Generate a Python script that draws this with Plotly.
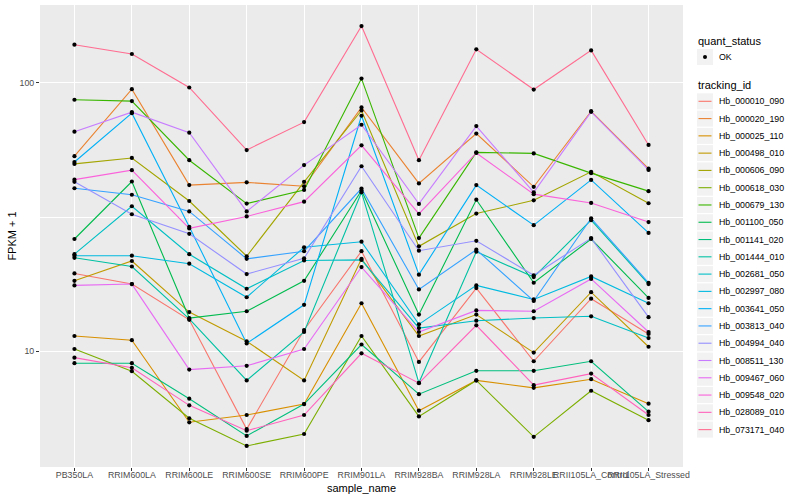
import plotly.graph_objects as go

samples = ["PB350LA", "RRIM600LA", "RRIM600LE", "RRIM600SE", "RRIM600PE", "RRIM901LA",
           "RRIM928BA", "RRIM928LA", "RRIM928LE", "RRII105LA_Control", "RRII105LA_Stressed"]

tracking_ids = ["Hb_000010_090", "Hb_000020_190", "Hb_000025_110", "Hb_000498_010", "Hb_000606_090",
                "Hb_000618_030", "Hb_000679_130", "Hb_001100_050", "Hb_001141_020", "Hb_001444_010",
                "Hb_002681_050", "Hb_002997_080", "Hb_003641_050", "Hb_003813_040", "Hb_004994_040",
                "Hb_008511_130", "Hb_009467_060", "Hb_009548_020", "Hb_028089_010", "Hb_073171_040"]

colors = ["#F8766D", "#EA8331", "#D89000", "#C09B00", "#A3A500", "#7CAE00", "#39B600", "#00BB4E",
          "#00BF7D", "#00C1A3", "#00BFC4", "#00BAE0", "#00B0F6", "#35A2FF", "#9590FF", "#C77CFF",
          "#E76BF3", "#FA62DB", "#FF62BC", "#FF6C91"]

# FPKM + 1 per sample (order of `samples`)
hb_000010_090 = [19.5, 17.8, 13.1, 5.13, 12.0, 23.6, 9.13, 17.2, 9.18, 15.7, 11.6]
hb_000020_190 = [53.3, 94.7, 41.6, 42.6, 41.2, 81.0, 42.2, 64.7, 41.0, 78.4, 47.9]
hb_000025_110 = [11.4, 11.0, 5.44, 5.79, 6.36, 15.1, 6.01, 7.79, 7.31, 7.87, 6.38]
hb_000498_010 = [18.3, 21.7, 14.0, 10.9, 7.79, 22.1, 11.4, 13.7, 9.89, 16.6, 10.4]
hb_000606_090 = [49.9, 52.5, 36.3, 22.6, 42.8, 78.9, 24.6, 32.6, 36.5, 46.6, 35.6]
hb_000618_030 = [10.2, 8.43, 5.63, 4.44, 4.92, 11.4, 5.72, 7.79, 4.80, 7.13, 5.54]
hb_000679_130 = [86.5, 85.5, 51.5, 35.5, 39.9, 103.7, 26.4, 55.1, 54.6, 46.1, 39.5]
hb_001100_050 = [26.2, 42.9, 13.3, 14.1, 18.3, 39.7, 13.7, 36.7, 18.0, 26.2, 15.8]
hb_001141_020 = [9.03, 9.03, 6.66, 4.84, 6.36, 10.6, 6.92, 8.46, 8.46, 9.18, 5.96]
hb_001444_010 = [22.3, 20.7, 13.2, 7.79, 11.8, 39.1, 7.63, 23.5, 18.9, 30.8, 17.8]
hb_002681_050 = [23.0, 34.7, 23.0, 17.1, 21.8, 21.9, 12.2, 13.0, 13.3, 13.5, 11.2]
hb_002997_080 = [22.7, 22.7, 21.2, 15.9, 24.4, 25.6, 12.6, 17.6, 15.6, 19.0, 15.1]
hb_003641_050 = [50.7, 77.1, 29.1, 10.7, 14.9, 75.4, 19.3, 41.6, 29.5, 43.5, 27.6]
hb_003813_040 = [40.5, 38.3, 33.2, 22.1, 23.6, 40.4, 17.0, 23.9, 15.4, 31.3, 18.0]
hb_004994_040 = [42.8, 32.4, 27.4, 19.4, 22.2, 48.9, 23.7, 25.8, 19.2, 26.4, 13.4]
hb_008511_130 = [65.8, 77.8, 65.2, 33.2, 49.4, 69.8, 35.4, 69.0, 39.1, 78.0, 47.4]
hb_009467_060 = [17.6, 17.8, 8.55, 8.83, 10.2, 20.6, 11.8, 14.2, 14.1, 18.6, 11.8]
hb_009548_020 = [43.6, 47.3, 28.7, 31.8, 36.1, 58.5, 32.5, 54.8, 38.5, 35.7, 30.3]
hb_028089_010 = [9.47, 8.68, 6.29, 5.06, 5.79, 9.83, 7.61, 12.5, 7.48, 8.26, 5.79]
hb_073171_040 = [138.7, 128.1, 96.1, 56.2, 71.4, 162.8, 51.5, 133.3, 94.4, 132.1, 58.7]

series = [hb_000010_090, hb_000020_190, hb_000025_110, hb_000498_010, hb_000606_090,
          hb_000618_030, hb_000679_130, hb_001100_050, hb_001141_020, hb_001444_010,
          hb_002681_050, hb_002997_080, hb_003641_050, hb_003813_040, hb_004994_040,
          hb_008511_130, hb_009467_060, hb_009548_020, hb_028089_010, hb_073171_040]

W, H = 800, 500
ML, MR, MT, MB = 40, 117, 5, 33
PW, PH = W - ML - MR, H - MT - MB
FONT = "Liberation Sans, Arial, Helvetica, sans-serif"

fig = go.Figure()

for name, col, vals in zip(tracking_ids, colors, series):
    fig.add_trace(go.Scatter(x=samples, y=vals, mode="lines", name=name,
                             line=dict(color=col, width=1.1), showlegend=False,
                             hoverinfo="skip"))

px_all, py_all = [], []
for vals in series:
    px_all.extend(samples)
    py_all.extend(vals)
fig.add_trace(go.Scatter(x=px_all, y=py_all, mode="markers", name="OK",
                         marker=dict(color="black", size=4.2), showlegend=False))


def fx(px):
    return (px - ML) / PW


def fy(py):
    return (H - MB - py) / PH


shapes = []
annotations = []

# legend: quant_status
annotations.append(dict(text="quant_status", x=fx(696), y=fy(41), xref="paper", yref="paper",
                        xanchor="left", yanchor="middle", showarrow=False,
                        font=dict(size=11, color="black", family=FONT)))
shapes.append(dict(type="rect", xref="paper", yref="paper", x0=fx(697), x1=fx(713),
                   y0=fy(49), y1=fy(65), fillcolor="#F2F2F2", line=dict(width=0), layer="above"))
shapes.append(dict(type="circle", xref="paper", yref="paper", x0=fx(703), x1=fx(707),
                   y0=fy(55), y1=fy(59), fillcolor="black", line=dict(width=0), layer="above"))
annotations.append(dict(text="OK", x=fx(716.5), y=fy(57), xref="paper", yref="paper",
                        xanchor="left", yanchor="middle", showarrow=False,
                        font=dict(size=8.8, color="black", family=FONT)))

# legend: tracking_id
annotations.append(dict(text="tracking_id", x=fx(696), y=fy(85), xref="paper", yref="paper",
                        xanchor="left", yanchor="middle", showarrow=False,
                        font=dict(size=11, color="black", family=FONT)))
for i, (name, col) in enumerate(zip(tracking_ids, colors)):
    cy = 101.3 + 17.28 * i
    shapes.append(dict(type="rect", xref="paper", yref="paper", x0=fx(697), x1=fx(713),
                       y0=fy(cy - 8), y1=fy(cy + 8), fillcolor="#F2F2F2", line=dict(width=0),
                       layer="above"))
    shapes.append(dict(type="line", xref="paper", yref="paper", x0=fx(698.5), x1=fx(711.5),
                       y0=fy(cy), y1=fy(cy), line=dict(color=col, width=1.1), layer="above"))
    annotations.append(dict(text=name, x=fx(716.5), y=fy(cy), xref="paper", yref="paper",
                            xanchor="left", yanchor="middle", showarrow=False,
                            font=dict(size=8.8, color="black", family=FONT)))

fig.update_layout(
    width=W, height=H,
    margin=dict(l=ML, r=MR, t=MT, b=MB, pad=0),
    paper_bgcolor="white", plot_bgcolor="#EBEBEB",
    font=dict(family=FONT, color="black"),
    shapes=shapes, annotations=annotations, showlegend=False,
    xaxis=dict(type="category", categoryorder="array", categoryarray=samples,
               range=[-0.6, len(samples) - 0.4], showgrid=True, gridcolor="white", gridwidth=1.1,
               zeroline=False, showline=False, ticks="outside", ticklen=3, tickwidth=1,
               tickcolor="#333333", tickangle=0, ticklabelstandoff=-4,
               tickfont=dict(size=8.8, color="#4D4D4D", family=FONT),
               title=dict(text="sample_name", font=dict(size=11, color="black", family=FONT),
                          standoff=5)),
    yaxis=dict(type="log", range=[0.569, 2.290], tickvals=[10, 100], ticktext=["10", "100"],
               showgrid=True, gridcolor="white", gridwidth=1.1, zeroline=False, showline=False,
               ticks="outside", ticklen=3, tickwidth=1, tickcolor="#333333",
               tickfont=dict(size=8.8, color="#4D4D4D", family=FONT),
               minor=dict(tickvals=[31.6228], showgrid=True, gridcolor="white", gridwidth=0.55,
                          ticks=""),
               title=dict(text="FPKM + 1", font=dict(size=11, color="black", family=FONT),
                          standoff=0)),
)

fig.write_html("out.html", config={"displayModeBar": False},
               post_script="document.body.style.margin='0';document.body.style.overflow='hidden';")
